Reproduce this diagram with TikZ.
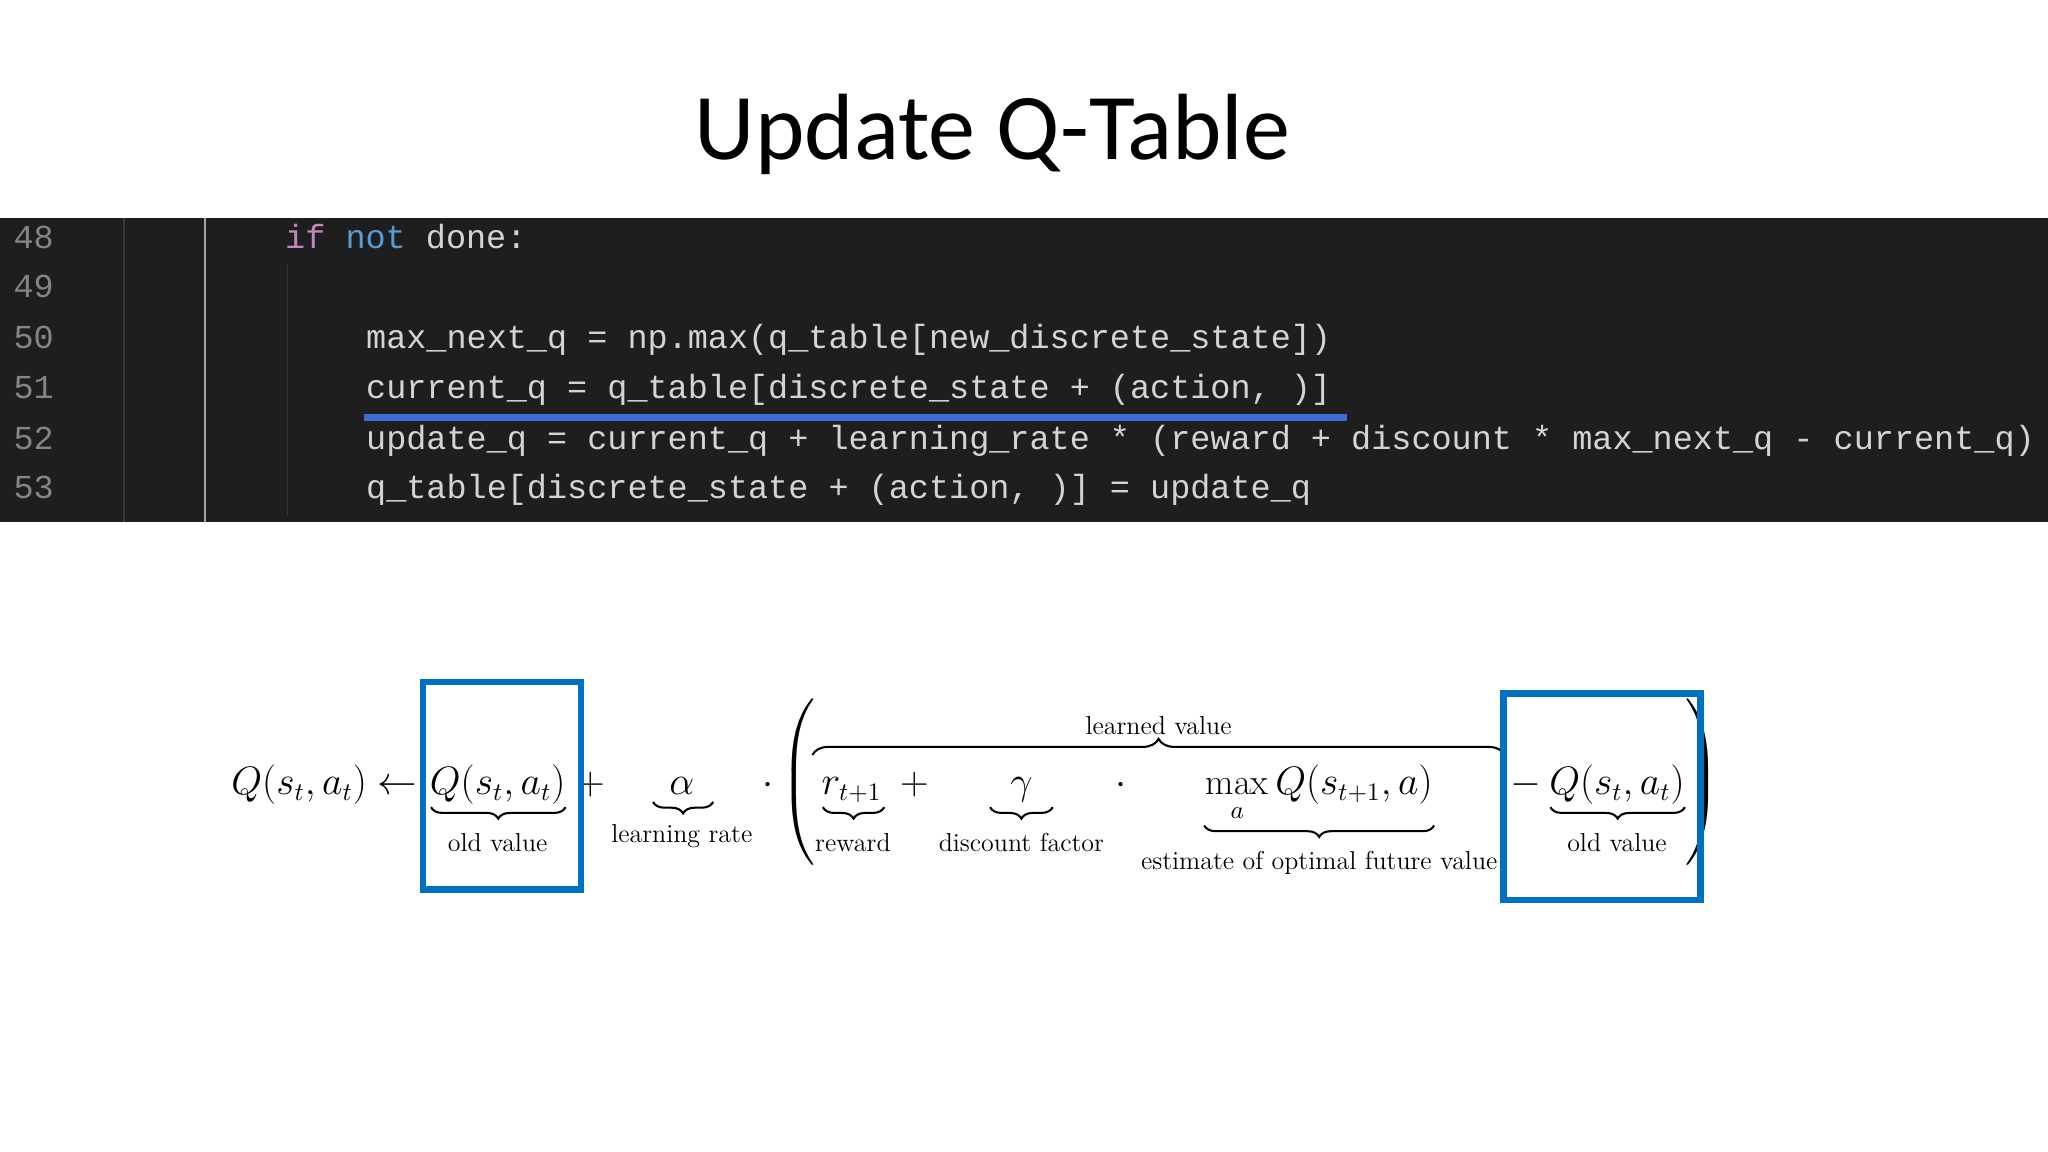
\documentclass[tikz,border=0pt]{standalone}
\usepackage{fontspec}
\usepackage{amsmath}
\setmainfont{Latin Modern Roman}
\newfontfamily\titlefont{Carlito}
\newfontfamily\codefont{Liberation Mono}
\usetikzlibrary{decorations.pathreplacing}
\definecolor{codebg}{HTML}{1E1E1E}
\definecolor{codetxt}{HTML}{D4D4D4}
\definecolor{lnum}{HTML}{858585}
\definecolor{kwpink}{HTML}{C586C0}
\definecolor{kwblue}{HTML}{569CD6}
\definecolor{boxblue}{HTML}{0070C0}
\definecolor{uline}{HTML}{3B6FD6}
\tikzset{
  code/.style={anchor=base west,inner sep=0,text=codetxt,font=\codefont\fontsize{14.6}{16}\selectfont},
  lnumsty/.style={anchor=base west,inner sep=0,text=lnum,font=\codefont\fontsize{14.6}{16}\selectfont},
  mth/.style={inner sep=0,font=\fontsize{16}{19}\selectfont},
  lbl/.style={inner sep=0,anchor=base,font=\fontsize{11.3}{13}\selectfont},
  brc/.style={decorate,decoration={brace,amplitude=5pt,raise=0pt},line width=0.9pt},
  hbox/.style={draw=boxblue,line width=2.8pt}
}
\begin{document}
\begin{tikzpicture}[x=0.02cm,y=-0.02cm]
\useasboundingbox (0,0) rectangle (1568,882);
\node[font=\titlefont\fontsize{41}{48}\selectfont,anchor=base] (title) at (760,122) {Update Q-Table};
% code block
\fill[codebg] (0,167) rectangle (1568,400);
\draw[gray!45!black,line width=0.6pt] (95,167) -- (95,400);
\draw[gray!70,line width=0.6pt] (157,167) -- (157,400);
\draw[gray!40!black,line width=0.6pt] (220,202) -- (220,395);
\foreach \n/\y in {48/190,49/228,50/267,51/305,52/344,53/382}{
  \node[lnumsty] (ln\n) at (10,\y) {\n};
}
\node[code] (c48) at (218,190) {\textcolor{kwpink}{if} \textcolor{kwblue}{not} done:};
\node[code] (c50) at (280,267) {max\_next\_q = np.max(q\_table[new\_discrete\_state])};
\node[code] (c51) at (280,305) {current\_q = q\_table[discrete\_state + (action, )]};
\node[code] (c52) at (280,344) {update\_q = current\_q + learning\_rate * (reward + discount * max\_next\_q - current\_q)};
\node[code] (c53) at (280,382) {q\_table[discrete\_state + (action, )] = update\_q};
\fill[uline] (279,317) rectangle (1031,322);
% formula
\node[mth,anchor=base east] (lhs) at (320,608) {$Q(s_t,a_t)\leftarrow$};
\node[mth,anchor=base] (q1) at (381,608) {$Q(s_t,a_t)$};
\node[mth,anchor=base] (p1) at (452,608) {$+$};
\node[mth,anchor=base] (al) at (522,608) {$\alpha$};
\node[mth,anchor=base] (d1) at (588,608) {$\cdot$};
\node[mth,anchor=base] (r) at (652,608) {$r_{t+1}$};
\node[mth,anchor=base] (p2) at (700,608) {$+$};
\node[mth,anchor=base] (ga) at (782,608) {$\gamma$};
\node[mth,anchor=base] (d2) at (858,608) {$\cdot$};
\node[mth,anchor=base] (mx) at (1010,608) {$\max\limits_a Q(s_{t+1},a)$};
\node[mth,anchor=base] (mi) at (1168,608) {$-$};
\node[mth,anchor=base] (q2) at (1238,608) {$Q(s_t,a_t)$};
\node[inner sep=0,font=\fontsize{16}{19}\selectfont] (lp) at (612,598) {$\left(\vphantom{\rule{1pt}{1.45cm}}\right.$};
\node[inner sep=0,font=\fontsize{16}{19}\selectfont] (rp) at (1303,598) {$\left.\vphantom{\rule{1pt}{1.45cm}}\right)$};
% braces
\coordinate (b1a) at (330,618); \coordinate (b1b) at (433,618);
\draw[brc] (b1b) -- (b1a);
\node[lbl] (l1) at (381,652) {old value};
\coordinate (b2a) at (500,614); \coordinate (b2b) at (546,614);
\draw[brc] (b2b) -- (b2a);
\node[lbl] (l2) at (522,645) {learning rate};
\coordinate (b3a) at (630,618); \coordinate (b3b) at (677,618);
\draw[brc] (b3b) -- (b3a);
\node[lbl] (l3) at (653,652) {reward};
\coordinate (b4a) at (758,618); \coordinate (b4b) at (806,618);
\draw[brc] (b4b) -- (b4a);
\node[lbl] (l4) at (782,652) {discount factor};
\coordinate (b5a) at (922,632); \coordinate (b5b) at (1098,632);
\draw[brc] (b5b) -- (b5a);
\node[lbl] (l5) at (1010,666) {estimate of optimal future value};
\coordinate (b6a) at (1187,618); \coordinate (b6b) at (1290,618);
\draw[brc] (b6b) -- (b6a);
\node[lbl] (l6) at (1238,652) {old value};
\coordinate (b7a) at (622,578); \coordinate (b7b) at (1152,578);
\draw[brc,decoration={amplitude=7pt}] (b7a) -- (b7b);
\node[lbl] (l7) at (887,562) {learned value};
% blue boxes
\draw[hbox] (324,522) rectangle (445,681);
\draw[hbox] (1151,531) rectangle (1302,689);
\end{tikzpicture}
\end{document}
